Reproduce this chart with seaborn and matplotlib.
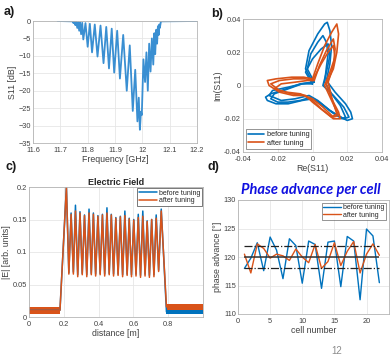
import numpy as np
import matplotlib
matplotlib.use("Agg")
from matplotlib import pyplot as plt
import seaborn as sns

sns.set_theme(style="whitegrid")
plt.rcParams["font.family"] = ["Liberation Sans", "DejaVu Sans"]
plt.rcParams["axes.edgecolor"] = "#b5b5b5"
plt.rcParams["grid.color"] = "#e6e6e6"
plt.rcParams["grid.linewidth"] = 0.6
plt.rcParams["xtick.color"] = "#404040"
plt.rcParams["ytick.color"] = "#404040"
plt.rcParams["axes.labelcolor"] = "#404040"

BLUE = "#0072BD"
ORANGE = "#D95319"

# ---- a) S11 vs frequency (arc tops and dips read off the plot)
a_freq = [11.69, 11.745, 11.748, 11.751, 11.755, 11.758, 11.762, 11.765, 11.769, 11.772,
          11.776, 11.780, 11.784, 11.792, 11.800, 11.808, 11.816, 11.826, 11.836, 11.847,
          11.858, 11.868, 11.878, 11.888, 11.897, 11.908, 11.918, 11.930, 11.943, 11.954,
          11.965, 11.974, 11.982, 11.987, 11.991, 11.995, 11.998, 12.004, 12.010, 12.015,
          12.020, 12.025, 12.030, 12.035, 12.040, 12.044, 12.047, 12.051, 12.054, 12.057,
          12.060, 12.062, 12.064, 12.068, 12.2]
a_s11 = [0.0, -0.1, -0.6, -0.1, -1.2, -0.2, -2.0, -0.3, -2.8, -0.4,
         -3.8, -0.5, -5.3, -0.6, -7.4, -0.8, -9.0, -1.0, -10.2, -1.3,
         -12.1, -1.7, -13.6, -2.2, -14.8, -2.8, -16.5, -4.0, -20.0, -7.0,
         -25.8, -14.0, -28.8, -22.0, -31.2, -26.0, -27.0, -11.0, -17.5, -9.0,
         -20.0, -6.5, -14.5, -5.0, -12.5, -3.5, -9.5, -2.5, -6.5, -1.5,
         -4.0, -1.0, -2.0, -0.1, 0.0]

# ---- b) S11 in the complex plane, a few traced loops per series
b_before = [
    ([0.000, -0.004, -0.002, 0.003, 0.007, 0.0085, 0.010, 0.011, 0.010, 0.008, 0.013, 0.019, 0.022, 0.023,
      0.020, 0.014, 0.006, 0.000, -0.006, -0.014, -0.021, -0.026, -0.027, -0.024, -0.015, -0.007, 0.000],
     [0.002, 0.010, 0.021, 0.031, 0.037, 0.038, 0.033, 0.024, 0.013, 0.003, -0.004, -0.011, -0.016, -0.020,
      -0.021, -0.018, -0.012, -0.008, -0.009, -0.011, -0.011, -0.009, -0.007, -0.005, -0.002, 0.001, 0.002]),
    ([0.001, -0.003, -0.001, 0.003, 0.006, 0.008, 0.009, 0.008, 0.007, 0.011, 0.016, 0.019, 0.017, 0.011,
      0.004, -0.001, -0.007, -0.014, -0.020, -0.024, -0.022, -0.014, -0.006, 0.001],
     [0.002, 0.010, 0.019, 0.026, 0.030, 0.026, 0.019, 0.011, 0.002, -0.005, -0.012, -0.019, -0.020, -0.016,
      -0.010, -0.007, -0.009, -0.010, -0.010, -0.008, -0.005, -0.002, 0.001, 0.002]),
    ([0.000, -0.004, 0.000, 0.005, 0.009, 0.010, 0.008, 0.006, 0.012, 0.018, 0.021, 0.018, 0.010, 0.003,
      -0.002, -0.010, -0.018, -0.025, -0.023, -0.014, -0.006, 0.000],
     [0.001, 0.008, 0.016, 0.022, 0.025, 0.018, 0.008, 0.000, -0.006, -0.013, -0.019, -0.020, -0.015, -0.009,
      -0.006, -0.008, -0.009, -0.006, -0.003, -0.001, 0.001, 0.001]),
]
b_after = [
    ([0.000, 0.003, 0.007, 0.011, 0.014, 0.015, 0.014, 0.012, 0.008, 0.011, 0.015, 0.016, 0.012, 0.006,
      0.000, -0.004, -0.011, -0.019, -0.025, -0.026, -0.021, -0.012, -0.005, 0.000],
     [0.004, 0.013, 0.024, 0.032, 0.037, 0.031, 0.020, 0.010, 0.001, -0.008, -0.016, -0.020, -0.020, -0.015,
      -0.010, -0.006, -0.006, -0.004, 0.000, 0.003, 0.004, 0.005, 0.005, 0.004]),
    ([0.001, 0.004, 0.008, 0.012, 0.013, 0.012, 0.009, 0.011, 0.014, 0.011, 0.005, 0.000, -0.005, -0.012,
      -0.019, -0.024, -0.019, -0.011, -0.004, 0.001],
     [0.003, 0.012, 0.021, 0.028, 0.022, 0.012, 0.002, -0.007, -0.017, -0.019, -0.014, -0.009, -0.006, -0.005,
      -0.003, 0.001, 0.003, 0.004, 0.004, 0.003]),
    ([0.000, 0.005, 0.009, 0.012, 0.013, 0.010, 0.007, 0.011, 0.015, 0.012, 0.006, 0.000, -0.007, -0.015,
      -0.022, -0.018, -0.010, -0.003, 0.000],
     [0.003, 0.013, 0.020, 0.024, 0.017, 0.008, 0.000, -0.009, -0.018, -0.019, -0.013, -0.008, -0.005, -0.004,
      -0.002, 0.001, 0.002, 0.003, 0.003]),
]

# ---- c) electric field along the structure
c_peak_x = [0.215, 0.242, 0.267, 0.293, 0.319, 0.345, 0.370, 0.396, 0.422, 0.448, 0.473,
            0.499, 0.525, 0.551, 0.576, 0.602, 0.628, 0.654, 0.679, 0.705, 0.731, 0.760]
c_trough_x = [0.229, 0.255, 0.280, 0.306, 0.332, 0.358, 0.383, 0.409, 0.435, 0.461, 0.486,
              0.512, 0.538, 0.564, 0.589, 0.615, 0.641, 0.667, 0.692, 0.718, 0.745]
c_peak_before = [0.200, 0.160, 0.172, 0.162, 0.157, 0.166, 0.160, 0.156, 0.158, 0.168, 0.158,
                 0.153, 0.155, 0.163, 0.152, 0.150, 0.158, 0.163, 0.148, 0.150, 0.157, 0.166]
c_peak_after = [0.200, 0.158, 0.163, 0.160, 0.156, 0.160, 0.158, 0.155, 0.157, 0.160, 0.157,
                0.152, 0.154, 0.156, 0.151, 0.149, 0.153, 0.155, 0.147, 0.150, 0.152, 0.163]
c_trough_before = [0.068, 0.069, 0.065, 0.067, 0.065, 0.067, 0.066, 0.067, 0.066, 0.067, 0.066,
                   0.066, 0.065, 0.066, 0.065, 0.066, 0.064, 0.066, 0.064, 0.065, 0.072]
c_trough_after = [0.066, 0.066, 0.062, 0.065, 0.062, 0.065, 0.063, 0.065, 0.063, 0.065, 0.063,
                  0.064, 0.062, 0.064, 0.062, 0.063, 0.061, 0.063, 0.061, 0.062, 0.070]
c_left_band = (0.0, 0.178, 0.005, 0.016)          # x0, x1, low, high
c_right_before = (0.79, 1.0, 0.004, 0.012)
c_right_after = (0.79, 1.0, 0.011, 0.020)

# ---- d) phase advance per cell
cells = list(range(1, 23))
phase_before = [118.0, 119.8, 122.5, 117.6, 123.5, 121.2, 116.2, 123.2, 122.0, 115.4, 122.8,
                122.2, 114.5, 122.6, 122.8, 114.8, 123.6, 122.8, 112.5, 124.9, 123.7, 115.5]
phase_after = [120.5, 117.2, 122.3, 121.5, 119.8, 120.5, 120.2, 119.4, 121.4, 120.0, 119.0,
               122.2, 118.0, 119.2, 122.5, 118.5, 121.0, 122.7, 117.2, 120.5, 122.3, 120.3]
phase_target, phase_tol = 120, 2

fig = plt.figure(figsize=(3.9, 3.57), dpi=100)
W, H = 390, 357


def place(l, t, r, b):
    return fig.add_axes([l / W, 1 - b / H, (r - l) / W, (b - t) / H])


def style(ax):
    ax.tick_params(labelsize=5.3, length=1.5, direction="in")
    ax.tick_params(axis="x", pad=2.8)
    ax.tick_params(axis="y", pad=1.5)
    for s in ax.spines.values():
        s.set_linewidth(0.6)


# a)
axa = place(33, 21, 197, 143)
sns.lineplot(x=a_freq, y=a_s11, sort=False, estimator=None, color="#3a8fd2", lw=1.3, ax=axa)
axa.set_xlim(11.6, 12.2)
axa.set_ylim(-35, 0)
axa.set_xticks([11.6, 11.7, 11.8, 11.9, 12.0, 12.1, 12.2])
axa.set_xticklabels(["11.6", "11.7", "11.8", "11.9", "12", "12.1", "12.2"])
axa.set_yticks(range(-35, 1, 5))
axa.set_xlabel("Frequency [GHz]", fontsize=6.3, labelpad=1.0)
axa.set_ylabel("S11 [dB]", fontsize=6.3, labelpad=1)
style(axa)

# b)
axb = place(243, 19, 382, 152)
for i, (x, y) in enumerate(b_before):
    sns.lineplot(x=x, y=y, sort=False, estimator=None, color=BLUE, lw=1.2, ax=axb,
                 label="before tuning" if i == 0 else None)
for i, (x, y) in enumerate(b_after):
    sns.lineplot(x=x, y=y, sort=False, estimator=None, color=ORANGE, lw=1.2, ax=axb,
                 label="after tuning" if i == 0 else None)
axb.set_xlim(-0.04, 0.04)
axb.set_ylim(-0.04, 0.04)
axb.set_xticks([-0.04, -0.02, 0, 0.02, 0.04])
axb.set_xticklabels(["-0.04", "-0.02", "0", "0.02", "0.04"])
axb.set_yticks([-0.04, -0.02, 0, 0.02, 0.04])
axb.set_yticklabels(["-0.04", "-0.02", "0", "0.02", "0.04"])
axb.set_xlabel("Re(S11)", fontsize=6.3, labelpad=1.0)
axb.set_ylabel("Im(S11)", fontsize=6.3, labelpad=1)
axb.legend(loc="lower left", fontsize=5.3, frameon=True, fancybox=False, edgecolor="#444444",
           handlelength=2.2, borderpad=0.3, labelspacing=0.2, handletextpad=0.3,
           borderaxespad=0.4).get_frame().set_linewidth(0.5)
style(axb)

# c)
axc = place(29, 187, 203, 317)


def field(peaks, troughs, base_left, base_right):
    xs = [0.0, 0.178]
    ys = [base_left, base_left]
    for k in range(len(c_peak_x)):
        xs.append(c_peak_x[k]); ys.append(peaks[k])
        if k < len(c_trough_x):
            xs.append(c_trough_x[k]); ys.append(troughs[k])
    xs += [0.79, 1.0]
    ys += [base_right, base_right]
    return xs, ys


for (peaks, troughs, right, col, lab) in [
        (c_peak_before, c_trough_before, c_right_before, BLUE, "before tuning"),
        (c_peak_after, c_trough_after, c_right_after, ORANGE, "after tuning")]:
    xs, ys = field(peaks, troughs, 0.0105, (right[2] + right[3]) / 2)
    axc.fill_between([c_left_band[0], c_left_band[1]], c_left_band[2], c_left_band[3],
                     color=col, lw=0)
    axc.fill_between([right[0], right[1]], right[2], right[3], color=col, lw=0)
    sns.lineplot(x=xs, y=ys, sort=False, estimator=None, color=col, lw=1.1, ax=axc, label=lab)
axc.set_xlim(0, 1.0)
axc.set_ylim(0, 0.2)
axc.set_xticks([0, 0.2, 0.4, 0.6, 0.8])
axc.set_xticklabels(["0", "0.2", "0.4", "0.6", "0.8"])
axc.set_yticks([0, 0.05, 0.1, 0.15, 0.2])
axc.set_yticklabels(["0", "0.05", "0.1", "0.15", "0.2"])
axc.set_xlabel("distance [m]", fontsize=6.3, labelpad=1.0)
axc.set_ylabel("|E| [arb. units]", fontsize=6.3, labelpad=1)
axc.set_title("Electric Field", fontsize=6.5, fontweight="bold", color="#262626", pad=1.5)
axc.legend(loc="upper right", fontsize=5.0, frameon=True, fancybox=False, edgecolor="#444444",
           handlelength=2.6, borderpad=0.2, labelspacing=0.1, handletextpad=0.3,
           borderaxespad=0.2, framealpha=1).get_frame().set_linewidth(0.5)
style(axc)

# d)
axd = place(238, 200, 389, 314)
sns.lineplot(x=cells, y=phase_before, color=BLUE, lw=1.0, ax=axd, label="before tuning")
sns.lineplot(x=cells, y=phase_after, color=ORANGE, lw=1.0, ax=axd, label="after tuning")
axd.hlines(phase_target, cells[0], cells[-1], color="#333333", lw=1.1)
axd.hlines([phase_target - phase_tol, phase_target + phase_tol], cells[0], cells[-1],
           color="#222222", lw=0.9, linestyles="dashdot")
axd.set_xlim(0, 23.5)
axd.set_ylim(110, 130)
axd.set_xticks([0, 5, 10, 15, 20])
axd.set_yticks([110, 115, 120, 125, 130])
axd.set_xlabel("cell number", fontsize=6.3, labelpad=1.0)
axd.set_ylabel("phase advance [°]", fontsize=6.3, labelpad=1)
axd.legend(loc="upper right", fontsize=5.0, frameon=True, fancybox=False, edgecolor="#444444",
           handlelength=2.6, borderpad=0.2, labelspacing=0.1, handletextpad=0.3,
           borderaxespad=0.4).get_frame().set_linewidth(0.5)
style(axd)

# panel letters and headings
for lab, (px, py) in {"a)": (4, 12), "b)": (211, 14), "c)": (6, 167), "d)": (208, 167)}.items():
    fig.text(px / W, 1 - py / H, lab, fontsize=9, fontweight="bold", color="#1a1a1a", va="center")
fig.text(311 / W, 1 - 190 / H, "Phase advance per cell", fontsize=10.5, fontweight="bold",
         style="italic", color="#1010e0", ha="center", va="center", family=["Lato", "DejaVu Sans"])
fig.text(337 / W, 1 - 351 / H, "12", fontsize=7, color="#8c8c8c", ha="center", va="center")

fig.savefig("out.png", dpi=100)
